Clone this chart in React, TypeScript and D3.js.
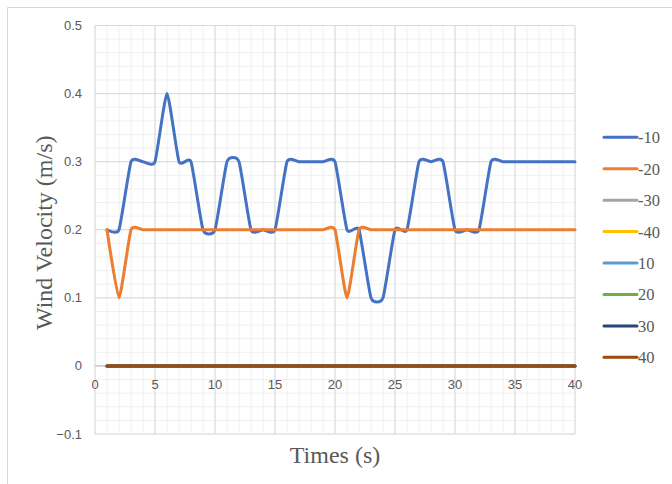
import React from "react";
import * as d3 from "d3";

const times = [1,2,3,4,5,6,7,8,9,10,11,12,13,14,15,16,17,18,19,20,21,22,23,24,25,26,27,28,29,30,31,32,33,34,35,36,37,38,39,40];
const seriesNames = ["-10", "-20", "-30", "-40", "10", "20", "30", "40"];
const seriesColors = ["#4472C4", "#ED7D31", "#A5A5A5", "#FFC000", "#5B9BD5", "#70AD47", "#264478", "#9E480E"];

const valsM10 = [0.2,0.2,0.3,0.3,0.3,0.4,0.3,0.3,0.2,0.2,0.3,0.3,0.2,0.2,0.2,0.3,0.3,0.3,0.3,0.3,0.2,0.2,0.1,0.1,0.2,0.2,0.3,0.3,0.3,0.2,0.2,0.2,0.3,0.3,0.3,0.3,0.3,0.3,0.3,0.3];
const valsM20 = [0.2,0.1,0.2,0.2,0.2,0.2,0.2,0.2,0.2,0.2,0.2,0.2,0.2,0.2,0.2,0.2,0.2,0.2,0.2,0.2,0.1,0.2,0.2,0.2,0.2,0.2,0.2,0.2,0.2,0.2,0.2,0.2,0.2,0.2,0.2,0.2,0.2,0.2,0.2,0.2];
const valsZero = [0,0,0,0,0,0,0,0,0,0,0,0,0,0,0,0,0,0,0,0,0,0,0,0,0,0,0,0,0,0,0,0,0,0,0,0,0,0,0,0];
const valsM30 = valsZero;
const valsM40 = valsZero;
const valsP10 = valsZero;
const valsP20 = valsZero;
const valsP30 = valsZero;
const valsP40 = valsZero;
const allValues = [valsM10, valsM20, valsM30, valsM40, valsP10, valsP20, valsP30, valsP40];

const xTicks = [0, 5, 10, 15, 20, 25, 30, 35, 40];
const yTicks = [-0.1, 0, 0.1, 0.2, 0.3, 0.4, 0.5];

export default function App() {
  const W = 672, H = 484;
  const x = d3.scaleLinear().domain([0, 40]).range([95, 575]);
  const y = d3.scaleLinear().domain([-0.1, 0.5]).range([434, 25.5]);
  const line = d3
    .line<[number, number]>()
    .x((d) => x(d[0]))
    .y((d) => y(d[1]))
    .curve(d3.curveCardinal.tension(0.5));

  const minorX = d3.range(0, 40.001, 1);
  const minorY = d3.range(-0.1, 0.5001, 0.02);
  const tickFont = "'Liberation Sans', Arial, sans-serif";
  const serif = "'Liberation Serif', 'Times New Roman', serif";

  return (
    <svg width={W} height={H} style={{ position: "absolute", left: 0, top: 0, background: "#fff" }}>
      <rect x={0} y={0} width={W} height={H} fill="#fff" />
      <path d={`M7.5,${H + 2} V7.5 H${W + 2}`} fill="none" stroke="#D9D9D9" strokeWidth={1} />
      {/* minor grid */}
      {minorX.map((v) => (
        <line key={"mx" + v} x1={x(v)} x2={x(v)} y1={y(0.5)} y2={y(-0.1)} stroke="#F0F0F0" strokeWidth={1} />
      ))}
      {minorY.map((v, i) => (
        <line key={"my" + i} x1={x(0)} x2={x(40)} y1={y(v)} y2={y(v)} stroke="#F0F0F0" strokeWidth={1} />
      ))}
      {/* major grid */}
      {xTicks.map((v) => (
        <line key={"gx" + v} x1={x(v)} x2={x(v)} y1={y(0.5)} y2={y(-0.1)} stroke="#D9D9D9" strokeWidth={1} />
      ))}
      {yTicks.map((v) => (
        <line key={"gy" + v} x1={x(0)} x2={x(40)} y1={y(v)} y2={y(v)} stroke="#D9D9D9" strokeWidth={1} />
      ))}
      <line x1={x(0)} x2={x(40)} y1={y(0)} y2={y(0)} stroke="#BFBFBF" strokeWidth={1} />
      {/* series */}
      {allValues.map((vals, si) => (
        <path
          key={"s" + si}
          d={line(times.map((t, i) => [t, vals[i]] as [number, number])) || ""}
          fill="none"
          stroke={seriesColors[si]}
          strokeWidth={3}
          strokeLinecap="round"
          strokeLinejoin="round"
        />
      ))}
      {/* y tick labels */}
      {yTicks.map((v) => (
        <text key={"ty" + v} x={82} y={y(v)} dy="0.35em" textAnchor="end" fontFamily={tickFont} fontSize={13} fill="#595959">
          {d3.format("")(Math.round(v * 10) / 10)}
        </text>
      ))}
      {/* x tick labels */}
      {xTicks.map((v) => (
        <text key={"tx" + v} x={x(v)} y={y(0) + 19} dy="0.35em" textAnchor="middle" fontFamily={tickFont} fontSize={13} fill="#595959">
          {v}
        </text>
      ))}
      {/* axis titles */}
      <text x={(x(0) + x(40)) / 2} y={463} textAnchor="middle" fontFamily={serif} fontSize={24} fill="#595959">
        Times (s)
      </text>
      <text
        transform={`translate(52,${(y(0.5) + y(-0.1)) / 2 + 3}) rotate(-90)`}
        textAnchor="middle"
        fontFamily={serif}
        fontSize={24}
        fill="#595959"
      >
        Wind Velocity (m/s)
      </text>
      {/* legend */}
      {seriesNames.map((name, i) => {
        const ly = 137.3 + i * 31.43;
        return (
          <g key={"lg" + name}>
            <line x1={604} x2={637} y1={ly} y2={ly} stroke={seriesColors[i]} strokeWidth={3} strokeLinecap="round" />
            <text x={638} y={ly + 6} fontFamily={serif} fontSize={16.5} fill="#595959">
              {name}
            </text>
          </g>
        );
      })}
    </svg>
  );
}
